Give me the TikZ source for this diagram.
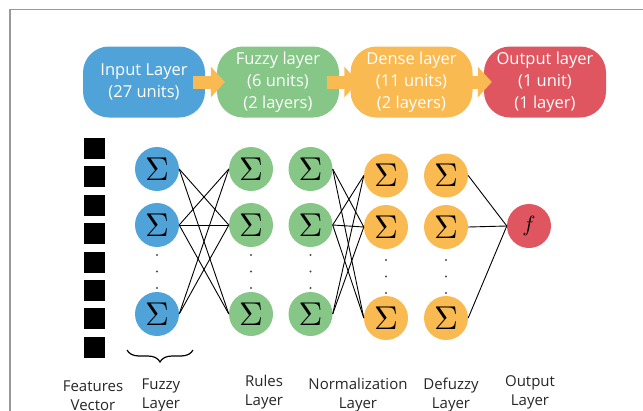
\documentclass[tikz,border=0pt]{standalone}
\usepackage{fontspec}
\setmainfont{Open Sans}
\usetikzlibrary{arrows.meta,decorations.pathreplacing}
\definecolor{lblue}{RGB}{79,163,216}
\definecolor{lgreen}{RGB}{134,199,136}
\definecolor{lorange}{RGB}{250,186,82}
\definecolor{lred}{RGB}{224,86,96}
\newcommand{\sumsym}{\scalebox{3.3}{$\Sigma$}}

\begin{document}
\begin{tikzpicture}[x=1pt,y=-1pt,
 layerbox/.style={rounded corners=26pt,minimum width=122pt,minimum height=71pt,inner sep=0pt,
   text=white,align=center,font=\fontsize{16.5}{22}\selectfont},
 flow/.style={lorange,line width=13pt,-{Triangle[length=14pt,width=30pt]}},
 neuron/.style={circle,minimum size=44pt,inner sep=0pt},
 link/.style={line width=0.9pt},
 lbl/.style={align=center,inner sep=0pt,text=black!85,font=\fontsize{15}{19}\selectfont}]
 \useasboundingbox (0,0) rectangle (643,410);
 \clip (0,0) rectangle (643,410);
 \draw[gray!80,line width=1.2pt] (10,412) -- (10,9.5) -- (645,9.5);

 \node[layerbox,fill=lblue] (inp) at (144,82) {Input Layer\\(27 units)};
 \node[layerbox,fill=lgreen] (fzl) at (278,82) {Fuzzy layer\\(6 units)\\(2 layers)};
 \node[layerbox,fill=lorange] (dnl) at (411.5,82) {Dense layer\\(11 units)\\(2 layers)};
 \node[layerbox,fill=lred] (otl) at (545,82) {Output layer\\(1 unit)\\(1 layer)};
 \draw[flow] ([xshift=-12pt]inp.east) -- ([xshift=8pt]fzl.west);
 \draw[flow] ([xshift=-12pt]fzl.east) -- ([xshift=8pt]dnl.west);
 \draw[flow] ([xshift=-12pt]dnl.east) -- ([xshift=8pt]otl.west);

 \foreach \i in {0,...,7}
   \fill (84,138+28.4*\i) rectangle ++(21,21);

 \node[neuron,fill=lblue] (fz1) at (157,169) {\sumsym};
 \node[neuron,fill=lblue] (fz2) at (157,225) {\sumsym};
 \node[neuron,fill=lblue] (fz3) at (157,314) {\sumsym};
 \node[neuron,fill=lgreen] (ru1) at (251,169) {\sumsym};
 \node[neuron,fill=lgreen] (ru2) at (251,225) {\sumsym};
 \node[neuron,fill=lgreen] (ru3) at (251,314) {\sumsym};
 \node[neuron,fill=lgreen] (nm1) at (310.5,169) {\sumsym};
 \node[neuron,fill=lgreen] (nm2) at (310.5,225) {\sumsym};
 \node[neuron,fill=lgreen] (nm3) at (310.5,314) {\sumsym};
 \node[neuron,fill=lorange] (dn1) at (386,175.5) {\sumsym};
 \node[neuron,fill=lorange] (dn2) at (386,227) {\sumsym};
 \node[neuron,fill=lorange] (dn3) at (386,318) {\sumsym};
 \node[neuron,fill=lorange] (df1) at (446,175.5) {\sumsym};
 \node[neuron,fill=lorange] (df2) at (446,227) {\sumsym};
 \node[neuron,fill=lorange] (df3) at (446,318) {\sumsym};
 \node[neuron,fill=lred] (outn) at (529,226) {\scalebox{2.2}{$f$}};

 \foreach \x in {157,251,310.5}
   \foreach \y in {255,271.5,288}
     \fill[black!70] (\x,\y) circle (1.1pt);
 \foreach \x in {386,446}
   \foreach \y in {260,276.5,293}
     \fill[black!70] (\x,\y) circle (1.1pt);

 \foreach \s/\t in {fz1/ru2,fz1/ru3,fz2/ru1,fz2/ru2,fz2/ru3,fz3/ru1,fz3/ru2}
   \draw[link] (\s.east) -- (\t.west);
 \foreach \s/\t in {nm1/dn2,nm1/dn3,nm2/dn1,nm2/dn2,nm2/dn3,nm3/dn1,nm3/dn2}
   \draw[link] (\s.east) -- (\t.west);
 \foreach \s in {df1,df2,df3}
   \draw[link] (\s.east) -- (outn.west);

 \draw[line width=1.2pt,decorate,decoration={brace,mirror,amplitude=12pt}] (127,350) -- (193,350);

 \node[lbl] (lfeat) at (93,395.5) {Features\\Vector};
 \node[lbl] (lfuz) at (161,395.5) {Fuzzy\\Layer};
 \node[lbl] (lrul) at (264,392.5) {Rules\\Layer};
 \node[lbl] (lnrm) at (358,395.5) {Normalization\\Layer};
 \node[lbl] (ldfz) at (451,395.5) {Defuzzy\\Layer};
 \node[lbl] (lout) at (530,392.5) {Output\\Layer};
\end{tikzpicture}
\end{document}
